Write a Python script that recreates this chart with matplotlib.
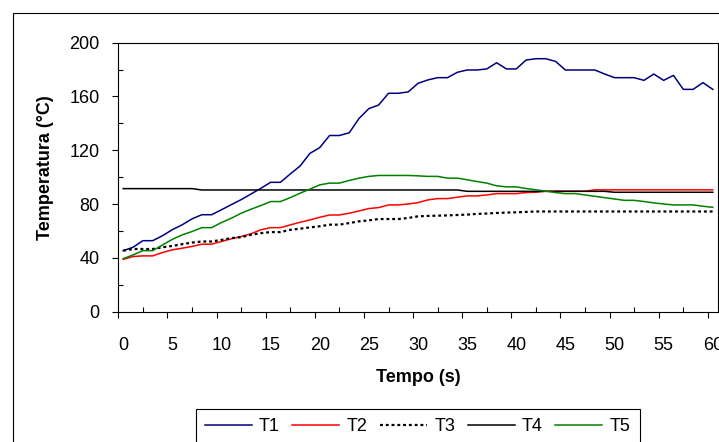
import numpy as np
import matplotlib
matplotlib.use("Agg")
import matplotlib.pyplot as plt
from matplotlib.patches import Rectangle

plt.rcParams["font.family"] = ["Liberation Sans", "DejaVu Sans"]

# time categories (s)
tempo = np.arange(61)
x_labels = tempo[::5]

t1 = [45.4, 47.9, 52.8, 52.8, 56.5, 61.0, 64.6, 69.0, 72.1, 72.1,
      75.8, 79.6, 83.3, 87.5, 91.7, 96.2, 96.2, 102.4, 108.3, 117.7,
      122.0, 131.0, 131.0, 133.0, 143.7, 151.0, 153.7, 162.4, 162.4, 163.4,
      169.8, 172.3, 174.0, 174.0, 178.0, 179.7, 179.7, 180.5, 185.1, 180.5,
      180.5, 187.1, 188.1, 188.1, 186.1, 179.7, 179.7, 179.7, 179.7, 176.7,
      174.0, 174.0, 174.0, 172.0, 176.7, 172.0, 175.7, 165.3, 165.3, 170.3,
      165.3]
t2 = [38.9, 41.0, 41.5, 41.5, 44.0, 46.0, 47.2, 48.5, 50.2, 50.2,
      52.2, 54.2, 55.9, 57.9, 60.9, 62.5, 62.5, 64.5, 66.5, 68.2,
      70.2, 71.9, 71.9, 73.2, 74.9, 76.7, 77.4, 79.4, 79.4, 80.1,
      81.1, 83.1, 84.1, 84.1, 85.1, 86.1, 86.1, 86.8, 87.8, 87.8,
      87.8, 88.6, 88.8, 89.6, 89.6, 89.6, 89.6, 89.6, 90.6, 90.6,
      90.6, 90.6, 90.6, 90.6, 90.6, 90.6, 90.6, 90.6, 90.6, 90.6,
      90.6]
t3 = [45.4, 46.6, 46.6, 46.6, 47.9, 48.9, 50.2, 51.4, 52.2, 52.2,
      53.4, 54.7, 55.4, 57.2, 58.4, 59.2, 59.2, 60.9, 61.7, 62.7,
      63.5, 64.7, 64.7, 65.9, 67.2, 67.9, 68.9, 68.9, 68.9, 69.7,
      70.9, 71.2, 71.4, 71.6, 71.9, 72.2, 72.7, 73.0, 73.4, 73.7,
      73.9, 74.2, 74.5, 74.5, 74.5, 74.5, 74.5, 74.5, 74.5, 74.5,
      74.5, 74.5, 74.5, 74.5, 74.5, 74.5, 74.5, 74.5, 74.5, 74.5,
      74.5]
t4 = [91.5] * 8 + [90.5] * 27 + [89.5] * 15 + [88.8] * 11
t5 = [39.4, 42.2, 45.4, 45.4, 49.6, 53.8, 57.1, 59.6, 62.5, 62.5,
      66.3, 69.5, 73.2, 76.2, 78.9, 81.9, 81.9, 84.8, 88.1, 91.1,
      94.3, 95.6, 95.6, 97.6, 99.3, 100.6, 101.3, 101.3, 101.3, 101.3,
      101.0, 100.6, 100.6, 99.3, 99.3, 98.1, 96.8, 95.6, 93.6, 92.8,
      92.8, 91.6, 90.6, 89.6, 88.6, 87.8, 87.8, 86.8, 85.8, 84.8,
      83.8, 82.8, 82.8, 81.9, 80.9, 80.1, 79.4, 79.4, 79.4, 78.4,
      77.6]

W, H = 719, 442
fig = plt.figure(figsize=(W / 100, H / 100), dpi=100)

# chart-area frame (cut by the image on the right and bottom)
fig.add_artist(Rectangle((12.5 / W, -0.1), 1.2, 1.1 - 13.3 / H,
                         transform=fig.transFigure, fill=False,
                         edgecolor="black", linewidth=0.8))

ax = fig.add_axes([118.3 / W, 1 - 311.7 / H, 599.4 / W, 269 / H])

ax.plot(tempo, t1, color="#000080", lw=1.1, label="T1")
ax.plot(tempo, t2, color="#ff0000", lw=1.1, label="T2")
ax.plot(tempo, t3, color="black", lw=1.6, linestyle=(0, (1.3, 1.3)),
        dash_capstyle="butt", label="T3")
ax.plot(tempo, t4, color="black", lw=1.1, label="T4")
ax.plot(tempo, t5, color="#008000", lw=1.1, label="T5")

ax.set_xlim(-0.5, 60.5)
ax.set_ylim(0, 200)
for s in ax.spines.values():
    s.set_linewidth(0.8)
    s.set_color("black")

# category boundaries (out) and midpoints (in)
ax.set_xticks(np.arange(-0.5, 60, 5))
ax.set_xticks(np.arange(2, 60, 5), minor=True)
ax.tick_params(axis="x", which="major", direction="out", length=4,
               width=0.8, labelbottom=False)
ax.tick_params(axis="x", which="minor", direction="in", length=3.6, width=0.8)

ax.set_yticks(np.arange(0, 201, 40))
ax.set_yticks(np.arange(20, 200, 40), minor=True)
ax.tick_params(axis="y", which="major", direction="out", length=4,
               width=0.8, pad=9.5, labelsize=13)
ax.tick_params(axis="y", which="minor", direction="in", length=3.6, width=0.8)

sec = ax.secondary_xaxis("bottom")
sec.set_xticks(x_labels)
sec.set_xticklabels([str(v) for v in x_labels])
sec.tick_params(length=0, pad=18, labelsize=13)
sec.spines["bottom"].set_visible(False)

fig.text(418 / W, 1 - 377 / H, "Tempo (s)", ha="center", va="center",
         fontsize=13, fontweight="bold")
fig.text(45 / W, 1 - 167.5 / H, "Temperatura (°C)", ha="center", va="center",
         rotation=90, fontsize=13, fontweight="bold")

leg = ax.legend(loc="upper center", bbox_to_anchor=(417.6 / W, 1 - 409.3 / H),
                bbox_transform=fig.transFigure, ncol=5, fontsize=13,
                frameon=True, fancybox=False, framealpha=1, edgecolor="black",
                handlelength=2.6, handletextpad=0.4, columnspacing=0.7,
                borderpad=0.5, borderaxespad=0)
leg.get_frame().set_linewidth(0.8)

fig.savefig("out.png", dpi=100)
